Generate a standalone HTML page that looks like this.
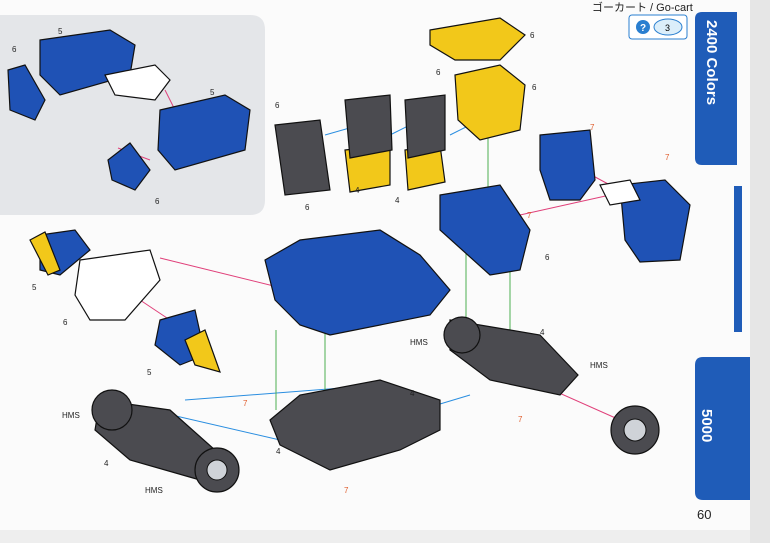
<!DOCTYPE html>
<html><head><style>
body{margin:0;width:770px;height:543px;overflow:hidden;background:#fff;font-family:"Liberation Sans","Noto Sans CJK JP",sans-serif}
</style></head><body>
<svg width="770" height="543" xmlns="http://www.w3.org/2000/svg" style="position:absolute;left:0;top:0">
<rect width="770" height="543" fill="#fbfbfb"/>
<rect x="750" y="0" width="20" height="543" fill="#e6e6e6"/>
<rect x="0" y="530" width="750" height="13" fill="#eee"/>
<path d="M0 15 H250 Q265 15 265 30 V200 Q265 215 250 215 H0 Z" fill="#e4e6e9"/>
<!-- tabs -->
<path d="M702 12 H737 V165 H702 Q695 165 695 158 V19 Q695 12 702 12Z" fill="#1f5cb8"/>
<text transform="translate(707,20) rotate(90)" font-size="15" font-weight="bold" fill="#fff">2400 Colors</text>
<rect x="734" y="186" width="8" height="146" fill="#1f5cb8"/>
<path d="M703 357 H750 V500 H703 Q695 500 695 492 V365 Q695 357 703 357Z" fill="#1f5cb8"/>
<text transform="translate(702,409) rotate(90)" font-size="15" font-weight="bold" fill="#fff">5000</text>
<text x="697" y="519" font-size="13" fill="#222">60</text>
<text x="592" y="11" font-size="11" fill="#222">ゴーカート / Go-cart</text>
<rect x="629" y="15" width="58" height="24" rx="3" fill="#fff" stroke="#2a7fd0"/>
<circle cx="643" cy="27" r="7" fill="#2a7fd0"/><text x="640" y="31" font-size="10" fill="#fff" font-weight="bold">?</text>
<ellipse cx="668" cy="27" rx="14" ry="8" fill="#dbeefa" stroke="#2a7fd0"/><text x="665" y="31" font-size="9">3</text>
<!-- connector lines -->
<g stroke="#e0407a" stroke-width="1" fill="none">
<line x1="40" y1="75" x2="110" y2="60"/><line x1="165" y1="90" x2="175" y2="110"/><line x1="150" y1="160" x2="118" y2="148"/>
<line x1="160" y1="258" x2="290" y2="290"/><line x1="140" y1="300" x2="170" y2="320"/>
<line x1="545" y1="150" x2="610" y2="185"/><line x1="520" y1="215" x2="610" y2="195"/>
<line x1="530" y1="380" x2="620" y2="420"/>
</g>
<g stroke="#2a8ee0" stroke-width="1" fill="none">
<line x1="325" y1="135" x2="360" y2="125"/><line x1="390" y1="135" x2="420" y2="120"/><line x1="450" y1="135" x2="490" y2="115"/>
<line x1="150" y1="410" x2="280" y2="440"/><line x1="185" y1="400" x2="380" y2="385"/><line x1="420" y1="410" x2="470" y2="395"/>
</g>
<g stroke="#4caf50" stroke-width="1"><line x1="276" y1="330" x2="276" y2="410"/><line x1="325" y1="330" x2="325" y2="445"/><line x1="466" y1="240" x2="466" y2="340"/><line x1="510" y1="240" x2="510" y2="345"/><line x1="488" y1="100" x2="488" y2="200"/></g>
<!-- blue parts -->
<g fill="#1f52b5" stroke="#111" stroke-width="1.2">
<path d="M40 40 L110 30 L135 45 L130 75 L60 95 L40 75Z"/>
<path d="M8 70 L25 65 L45 100 L35 120 L10 110Z"/>
<path d="M160 110 L225 95 L250 110 L245 150 L175 170 L158 150Z"/>
<path d="M108 160 L130 143 L150 170 L135 190 L112 180Z"/>
<path d="M265 260 L300 240 L380 230 L420 255 L450 290 L430 315 L330 335 L300 325 L275 300Z"/>
<path d="M440 195 L500 185 L530 230 L520 270 L490 275 L440 230Z"/>
<path d="M540 135 L590 130 L595 180 L580 200 L550 200 L540 170Z"/>
<path d="M620 185 L665 180 L690 205 L680 260 L640 262 L625 240Z"/>
<path d="M160 320 L195 310 L205 355 L180 365 L155 345Z"/>
<path d="M40 235 L75 230 L90 250 L60 275 L40 270Z"/>
</g>
<g fill="#f2c81a" stroke="#111" stroke-width="1.2">
<path d="M430 30 L500 18 L525 35 L500 60 L455 60 L430 45Z"/>
<path d="M455 75 L500 65 L525 85 L520 130 L480 140 L458 120Z"/>
<path d="M345 150 L390 145 L390 185 L350 192Z"/>
<path d="M405 150 L440 145 L445 182 L408 190Z"/>
<path d="M30 240 L45 232 L60 270 L48 275Z"/>
<path d="M185 340 L205 330 L220 372 L195 365Z"/>
</g>
<g fill="#4b4b50" stroke="#111" stroke-width="1.2">
<path d="M275 125 L320 120 L330 190 L285 195Z"/>
<path d="M345 100 L390 95 L392 150 L350 158Z"/>
<path d="M405 100 L445 95 L445 150 L408 158Z"/>
<path d="M270 420 L300 395 L380 380 L440 400 L440 430 L400 450 L330 470 L280 445Z"/>
<path d="M100 400 L170 410 L215 450 L200 480 L130 460 L95 430Z"/>
<path d="M450 320 L540 335 L578 375 L560 395 L490 380 L450 350Z"/>
<circle cx="112" cy="410" r="20"/><circle cx="217" cy="470" r="22"/><circle cx="462" cy="335" r="18"/><circle cx="635" cy="430" r="24"/>
</g>
<g fill="#cfd3d8" stroke="#111"><circle cx="217" cy="470" r="10"/><circle cx="635" cy="430" r="11"/></g>
<g fill="#fff" stroke="#111" stroke-width="1.2">
<path d="M105 75 L155 65 L170 80 L155 100 L115 95Z"/>
<path d="M80 260 L150 250 L160 280 L125 320 L90 320 L75 295Z"/>
<path d="M600 185 L630 180 L640 200 L610 205Z"/>
</g>
<g font-size="8" fill="#222">
<text x="12" y="52">6</text><text x="58" y="34">5</text><text x="210" y="95">5</text><text x="155" y="204">6</text>
<text x="275" y="108">6</text><text x="436" y="75">6</text><text x="530" y="38">6</text><text x="532" y="90">6</text>
<text x="305" y="210">6</text><text x="355" y="193">4</text><text x="395" y="203">4</text>
<text x="590" y="130" fill="#e06030">7</text><text x="665" y="160" fill="#e06030">7</text><text x="527" y="218" fill="#e06030">7</text>
<text x="545" y="260">6</text><text x="32" y="290">5</text><text x="63" y="325">6</text><text x="147" y="375">5</text>
<text x="410" y="345">HMS</text><text x="540" y="335">4</text><text x="590" y="368">HMS</text><text x="410" y="396">4</text>
<text x="62" y="418">HMS</text><text x="243" y="406" fill="#e06030">7</text><text x="276" y="454">4</text>
<text x="104" y="466">4</text><text x="145" y="493">HMS</text><text x="344" y="493" fill="#e06030">7</text><text x="518" y="422" fill="#e06030">7</text>
</g>
</svg>
</body></html>
